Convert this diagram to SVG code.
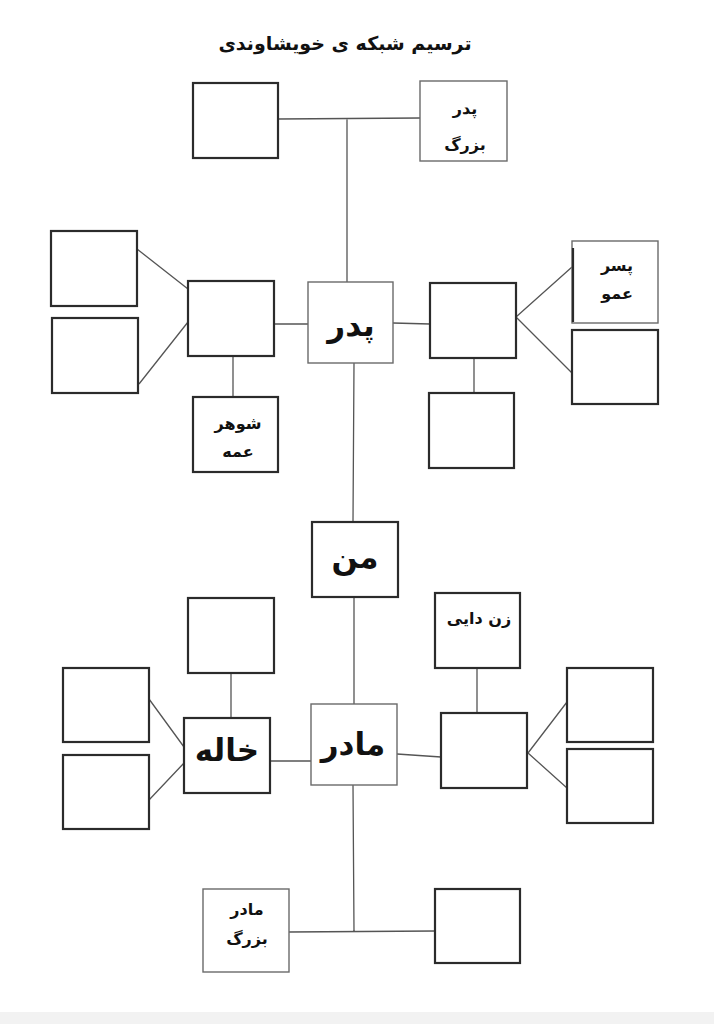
<svg xmlns="http://www.w3.org/2000/svg" width="714" height="1024" viewBox="0 0 714 1024">
<style>
.bx{fill:#fff;stroke:#2b2b2b;stroke-width:2.2}
.lb{fill:#fff;stroke:#6a6a6a;stroke-width:1.4}
.ln{fill:none;stroke:#555;stroke-width:1.3}
text{font-family:"DejaVu Sans",sans-serif;font-weight:bold;fill:#111;text-anchor:middle}
.sm{font-size:16px}
.big{font-size:31px}
</style>
<rect x="0" y="0" width="714" height="1024" fill="#fff"/>
<rect x="0" y="1012" width="714" height="12" fill="#f2f2f2"/>
<text x="345" y="50" style="font-size:19px" direction="rtl">ترسیم شبکه ی خویشاوندی</text>
<g id="connectors">
<path class="ln" d="M278 119 L420 118 M347 118 L347 282"/>
<path class="ln" d="M137 249 L188 289 M139 384 L188 322 M274 324 L308 324 M233 356 L233 397"/>
<path class="ln" d="M393 323 L430 324 M516 317 L572 267 M516 317 L572 373 M474 358 L474 393"/>
<path class="ln" d="M354 363 L353 522 M354 597 L354 704"/>
<path class="ln" d="M149 699 L184 747 M149 800 L184 763 M270 761 L311 761 M231 673 L231 718"/>
<path class="ln" d="M397 754 L441 757 M477 668 L477 713 M528 753 L567 702 M528 753 L567 788"/>
<path class="ln" d="M353 785 L354 932 M289 932 L435 931"/>
</g>
<g id="n-top-empty"><rect class="bx" x="193" y="83" width="85" height="75"/></g>
<g id="n-grandfather"><rect class="lb" x="420" y="81" width="87" height="80"/>
<text class="sm" x="465" y="114" direction="rtl">پدر</text><text class="sm" x="465" y="150" direction="rtl">بزرگ</text></g>
<g id="n-l1"><rect class="bx" x="51" y="231" width="86" height="75"/></g>
<g id="n-l2"><rect class="bx" x="52" y="318" width="86" height="75"/></g>
<g id="n-aunt"><rect class="bx" x="188" y="281" width="86" height="75"/></g>
<g id="n-father"><rect class="lb" x="308" y="282" width="85" height="81"/>
<text class="big" x="351" y="336" direction="rtl">پدر</text></g>
<g id="n-aunt-husband"><rect class="bx" x="193" y="397" width="85" height="75"/>
<text class="sm" x="238" y="429" direction="rtl">شوهر</text><text class="sm" x="238" y="457" direction="rtl">عمه</text></g>
<g id="n-uncle"><rect class="bx" x="430" y="283" width="86" height="75"/></g>
<g id="n-cousin"><rect class="lb" x="572" y="241" width="86" height="82"/>
<line x1="573" y1="248" x2="573" y2="322" stroke="#2b2b2b" stroke-width="2.2"/>
<text class="sm" x="617" y="271" direction="rtl">پسر</text><text class="sm" x="617" y="299" direction="rtl">عمو</text></g>
<g id="n-r2"><rect class="bx" x="572" y="330" width="86" height="74"/></g>
<g id="n-r3"><rect class="bx" x="429" y="393" width="85" height="75"/></g>
<g id="n-me"><rect class="bx" x="312" y="522" width="86" height="75"/>
<text class="big" x="355" y="568" direction="rtl">من</text></g>
<g id="n-mother"><rect class="lb" x="311" y="704" width="86" height="81"/>
<text class="big" x="353" y="755" direction="rtl">مادر</text></g>
<g id="n-above-khale"><rect class="bx" x="188" y="598" width="86" height="75"/></g>
<g id="n-khale"><rect class="bx" x="184" y="718" width="86" height="75"/>
<text class="big" x="227" y="761" direction="rtl">خاله</text></g>
<g id="n-ll1"><rect class="bx" x="63" y="668" width="86" height="74"/></g>
<g id="n-ll2"><rect class="bx" x="63" y="755" width="86" height="74"/></g>
<g id="n-zan-dayi"><rect class="bx" x="435" y="593" width="85" height="75"/>
<text class="sm" x="479" y="624" direction="rtl">زن دایی</text></g>
<g id="n-dayi"><rect class="bx" x="441" y="713" width="86" height="75"/></g>
<g id="n-rr1"><rect class="bx" x="567" y="668" width="86" height="74"/></g>
<g id="n-rr2"><rect class="bx" x="567" y="749" width="86" height="74"/></g>
<g id="n-grandmother"><rect class="lb" x="203" y="889" width="86" height="83"/>
<text class="sm" x="247" y="915" direction="rtl">مادر</text><text class="sm" x="247" y="944" direction="rtl">بزرگ</text></g>
<g id="n-bottom-empty"><rect class="bx" x="435" y="889" width="85" height="74"/></g>
</svg>
